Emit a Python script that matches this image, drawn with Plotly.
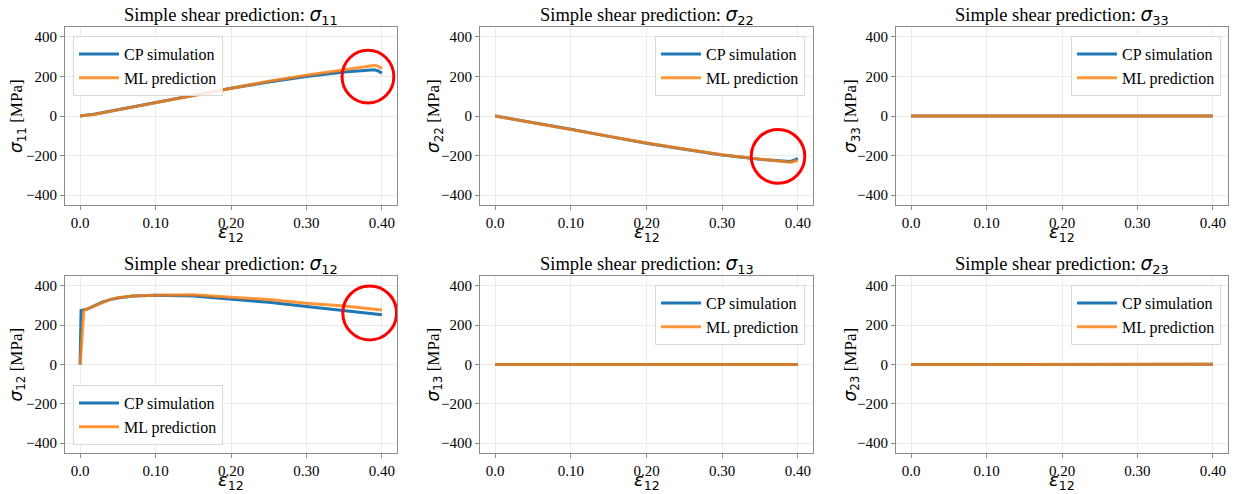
import plotly.graph_objects as go

# ---------------- data ----------------
eps_s11 = [0.0, 0.02, 0.05, 0.10, 0.15, 0.20, 0.25, 0.30, 0.35, 0.38, 0.39, 0.395, 0.40]
cp_s11 = [0, 10, 32, 68, 104, 140, 172, 200, 222, 233, 234, 228, 217]
ml_s11 = [0, 9, 31, 67, 105, 142, 176, 206, 232, 250, 257, 252, 240]

eps_s22 = [0.0, 0.05, 0.10, 0.15, 0.20, 0.25, 0.30, 0.35, 0.38, 0.39, 0.395, 0.40]
cp_s22 = [0, -33, -67, -103, -138, -168, -197, -219, -229, -230, -224, -214]
ml_s22 = [0, -34, -68, -102, -137, -167, -196, -218, -230, -234, -230, -224]

eps_s33 = [0.0, 0.10, 0.20, 0.30, 0.40]
cp_s33 = [0, 0.3, 0.5, 0.4, 0.2]
ml_s33 = [0, 0.2, 0.6, 0.5, 0.3]

eps_cp_s12 = [0.0, 0.0013, 0.01, 0.02, 0.03, 0.04, 0.05, 0.07, 0.10, 0.15, 0.20, 0.25, 0.30, 0.35, 0.40]
cp_s12 = [0, 275, 283, 300, 318, 330, 338, 348, 352, 348, 332, 316, 295, 275, 253]
eps_ml_s12 = [0.0, 0.005, 0.01, 0.02, 0.03, 0.04, 0.05, 0.07, 0.10, 0.15, 0.20, 0.25, 0.30, 0.35, 0.40]
ml_s12 = [0, 277, 283, 300, 318, 331, 339, 348, 352, 355, 342, 331, 311, 298, 277]

eps_s13 = [0.0, 0.10, 0.20, 0.30, 0.40]
cp_s13 = [0, 0.5, 1.5, 1.0, 0.5]
ml_s13 = [0, 0.4, 1.2, 1.1, 0.6]

eps_s23 = [0.0, 0.10, 0.20, 0.30, 0.40]
cp_s23 = [0, 0.4, 0.8, 1.2, 1.5]
ml_s23 = [0, 0.3, 0.7, 1.0, 1.4]

# highlight circles: (panel index, centre x, centre y, radius x, radius y)
circles = [
    (0, 0.3815, 199, 0.0343, 133),
    (1, 0.3738, -204, 0.0354, 136),
    (3, 0.3838, 262, 0.0356, 137),
]

components = ["11", "22", "33", "12", "13", "23"]
x_ticks = [0.0, 0.1, 0.2, 0.3, 0.4]
x_tick_text = ["0.0", "0.10", "0.20", "0.30", "0.40"]
y_ticks = [-400, -200, 0, 200, 400]

panels = [
    (eps_s11, cp_s11, eps_s11, ml_s11),
    (eps_s22, cp_s22, eps_s22, ml_s22),
    (eps_s33, cp_s33, eps_s33, ml_s33),
    (eps_cp_s12, cp_s12, eps_ml_s12, ml_s12),
    (eps_s13, cp_s13, eps_s13, ml_s13),
    (eps_s23, cp_s23, eps_s23, ml_s23),
]

# ---------------- layout geometry (pixels) ----------------
W, H = 1235, 494
col_px = [(65, 397), (480, 813), (896, 1228)]
row_px = [(27, 205), (276, 453)]
ylab_x = [17, 434, 851]
xlab_top = [219, 467]
legend_pos = [
    (73, 36, "left", "top"),
    (805, 36, "right", "top"),
    (1221, 36, "right", "top"),
    (73, 445, "left", "bottom"),
    (805, 285, "right", "top"),
    (1221, 285, "right", "top"),
]

BLUE = "#1f77b4"
ORANGE = "rgba(255,127,14,0.82)"
SERIF = "Liberation Serif, Times New Roman, serif"
SANS = "DejaVu Sans"

fig = go.Figure()
layout = dict(
    width=W, height=H,
    margin=dict(l=0, r=0, t=0, b=0, autoexpand=False),
    paper_bgcolor="white", plot_bgcolor="white",
    font=dict(family=SERIF, size=15, color="black"),
    showlegend=True,
    annotations=[], shapes=[],
)

def sym(letter, sub):
    return (f'<span style="font-family:{SANS}"><i>{letter}</i>'
            f'<sub>{sub}</sub></span>')

def annot(text, x, y, size, angle=0, xanchor="center", yanchor="middle"):
    return dict(text=text, x=x / W, y=1 - y / H, xref="paper", yref="paper",
                xanchor=xanchor, yanchor=yanchor, showarrow=False,
                textangle=angle, font=dict(family=SERIF, size=size))

for i, comp in enumerate(components):
    r, c = divmod(i, 3)
    ax_suffix = "" if i == 0 else str(i + 1)
    xa, ya = "x" + ax_suffix, "y" + ax_suffix
    leg = "legend" if i == 0 else f"legend{i + 1}"
    ex_cp, v_cp, ex_ml, v_ml = panels[i]
    fig.add_trace(go.Scatter(x=ex_cp, y=v_cp, mode="lines", name="CP simulation",
                             line=dict(color=BLUE, width=3), xaxis=xa, yaxis=ya,
                             legend=leg))
    fig.add_trace(go.Scatter(x=ex_ml, y=v_ml, mode="lines", name="ML prediction",
                             line=dict(color=ORANGE, width=3), xaxis=xa, yaxis=ya,
                             legend=leg))
    x0, x1 = col_px[c]
    y0, y1 = row_px[r]
    common = dict(
        showgrid=True, gridcolor="#ebebeb", gridwidth=1, zeroline=False,
        showline=True, linecolor="#8c8c8c", linewidth=1, mirror=True,
        ticks="outside", ticklen=4, tickcolor="#8c8c8c",
        tickfont=dict(size=15), automargin=False,
    )
    layout["xaxis" + ax_suffix] = dict(
        domain=[x0 / W, x1 / W], anchor=ya, range=[-0.02, 0.42],
        tickvals=x_ticks, ticktext=x_tick_text, **common)
    layout["yaxis" + ax_suffix] = dict(
        domain=[1 - y1 / H, 1 - y0 / H], anchor=xa, range=[-450, 450],
        tickvals=y_ticks, ticktext=[str(v).replace("-", "\u2212") for v in y_ticks],
        **common)
    lx, ly, lxa, lya = legend_pos[i]
    layout[leg] = dict(
        x=lx / W, y=1 - ly / H, xanchor=lxa, yanchor=lya,
        bgcolor="rgba(255,255,255,0.85)", bordercolor="#d9d9d9", borderwidth=1,
        font=dict(family=SERIF, size=16), tracegroupgap=0, itemwidth=40,
    )
    # subplot title
    layout["annotations"].append(annot("Simple shear prediction: " + sym("σ", comp),
                                       (x0 + x1) / 2, y0 + 3, 18.5, yanchor="bottom"))
    # axis titles
    layout["annotations"].append(annot(sym("ε", "12"), (x0 + x1) / 2, xlab_top[r], 18,
                                       yanchor="top"))
    layout["annotations"].append(annot(sym("σ", comp) + " [MPa]", ylab_x[c],
                                       (y0 + y1) / 2, 17, angle=-90))

for (pi, cx, cy, rx, ry) in circles:
    suf = "" if pi == 0 else str(pi + 1)
    layout["shapes"].append(dict(
        type="circle", xref="x" + suf, yref="y" + suf,
        x0=cx - rx, x1=cx + rx, y0=cy - ry, y1=cy + ry,
        line=dict(color="red", width=3),
    ))

fig.update_layout(**layout)
fig.write_html("out.html", config={"displayModeBar": False},
               post_script="document.body.style.margin='0';"
                           "document.body.style.overflow='hidden';")
